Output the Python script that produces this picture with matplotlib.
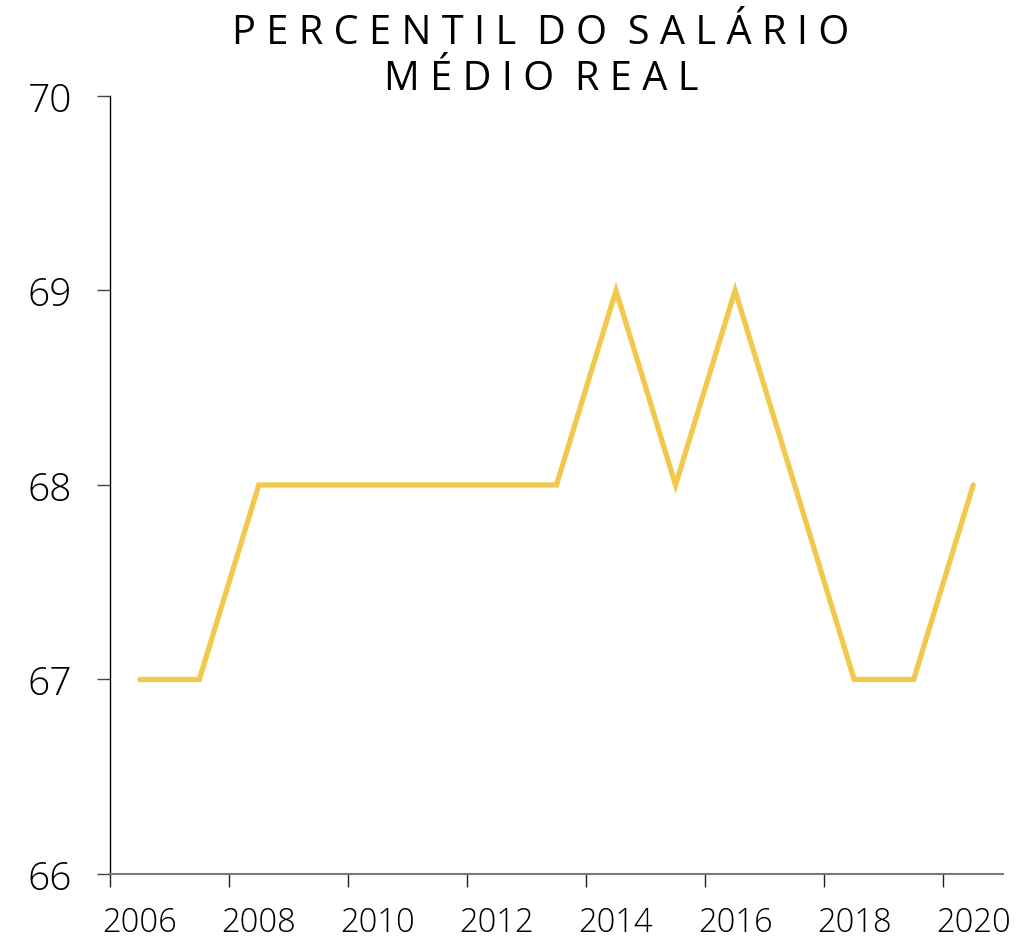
import matplotlib.pyplot as plt

# --- dados ---
anos = [2006, 2007, 2008, 2009, 2010, 2011, 2012, 2013, 2014, 2015, 2016, 2017, 2018, 2019, 2020]
percentil = [67, 67, 68, 68, 68, 68, 68, 68, 69, 68, 69, 68, 67, 67, 68]
ticks_x = [2006, 2008, 2010, 2012, 2014, 2016, 2018, 2020]
ticks_y = [66, 67, 68, 69, 70]
titulo = "PERCENTIL DO SALÁRIO\nMÉDIO REAL"

plt.rcParams['font.family'] = ['Open Sans', 'DejaVu Sans']

fig = plt.figure(figsize=(10.29, 9.37), dpi=100)
ax = fig.add_axes([0.1069, 0.0662, 0.8678, 0.8303])

# pontos no meio do ano
ax.plot([a + 0.5 for a in anos], percentil, color='#F2C94C', lw=3.8,
        solid_joinstyle='miter', solid_capstyle='round')

ax.set_xlim(2006, 2021)
ax.set_ylim(66, 70)
# marcas nos limites do ano, rótulos no meio do ano
ax.set_xticks(ticks_x)
ax.set_xticklabels([])
ax.set_xticks([t + 0.5 for t in ticks_x], minor=True)
ax.set_xticklabels([str(t) for t in ticks_x], minor=True, fontsize=23.5, fontweight='light')
ax.set_yticks(ticks_y)
ax.set_yticklabels([str(t) for t in ticks_y], fontsize=28, fontweight='light')

for s in ['top', 'right']:
    ax.spines[s].set_visible(False)
ax.spines['left'].set_color('black')
ax.spines['left'].set_linewidth(1)
ax.spines['bottom'].set_color('#777777')
ax.spines['bottom'].set_linewidth(1.5)
ax.tick_params(axis='y', length=9.5, width=1, color='#444444', pad=18)
ax.tick_params(axis='x', which='major', length=9, width=1, color='#222222')
ax.tick_params(axis='x', which='minor', length=0, pad=23)

# titulo com espaçamento entre letras
linhas = ["  ".join(" ".join(p) for p in l.split(" ")) for l in titulo.split("\n")]
fig.text(541 / 1029, 1 - 44 / 937, linhas[0], ha='center', va='baseline',
         fontsize=28.6, fontweight='normal')
fig.text(541 / 1029, 1 - 90 / 937, linhas[1], ha='center', va='baseline',
         fontsize=28.6, fontweight='normal')

plt.savefig("out.png", dpi=100)
